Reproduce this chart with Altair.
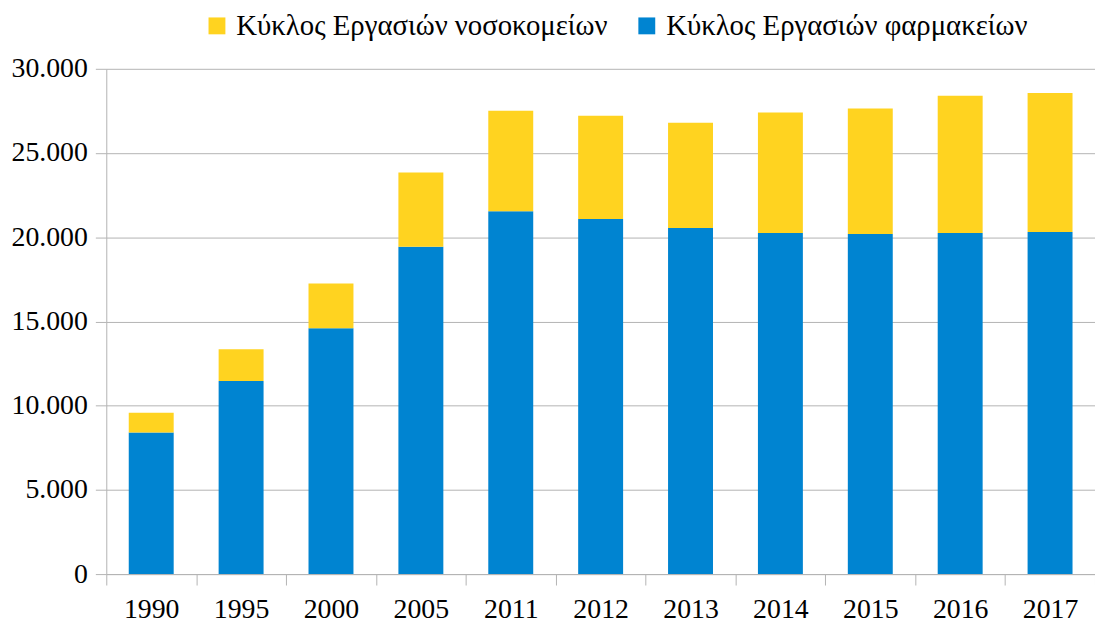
import altair as alt
import pandas as pd

years = ["1990", "1995", "2000", "2005", "2011", "2012", "2013", "2014", "2015", "2016", "2017"]
pharmacies = [8400, 11470, 14600, 19430, 21550, 21080, 20550, 20250, 20190, 20250, 20310]
hospitals = [1180, 1880, 2660, 4420, 5960, 6130, 6250, 7150, 7450, 8150, 8260]

s_hosp = "Κύκλος Εργασιών νοσοκομείων"
s_pharm = "Κύκλος Εργασιών φαρμακείων"

rows = []
for y, p, h in zip(years, pharmacies, hospitals):
    rows.append({"year": y, "series": s_pharm, "value": p, "ord": 0})
    rows.append({"year": y, "series": s_hosp, "value": h, "ord": 1})
df = pd.DataFrame(rows)

FONT = "Liberation Serif"
FS = 28

chart = alt.Chart(df).mark_bar(width=alt.RelativeBandSize(0.5)).encode(
    x=alt.X("year:N", sort=years, title=None,
            scale=alt.Scale(paddingInner=0, paddingOuter=0),
            axis=alt.Axis(labelAngle=0, tickBand="extent", tickSize=11, labelPadding=11,
                          domainColor="#b3b3b3", tickColor="#b3b3b3", grid=False,
                          labelFont=FONT, labelFontSize=FS, labelColor="#000000")),
    y=alt.Y("value:Q", stack="zero", title=None,
            scale=alt.Scale(domain=[0, 30000], nice=False),
            axis=alt.Axis(values=[0, 5000, 10000, 15000, 20000, 25000, 30000],
                          labelExpr="replace(format(datum.value, ','), ',', '.')",
                          tickSize=11, labelPadding=8, domainColor="#b3b3b3",
                          tickColor="#b3b3b3", gridColor="#b3b3b3", grid=True,
                          labelFont=FONT, labelFontSize=FS, labelColor="#000000")),
    color=alt.Color("series:N",
                    scale=alt.Scale(domain=[s_hosp, s_pharm], range=["#ffd320", "#0084d1"]),
                    legend=alt.Legend(title=None, orient="none", direction="horizontal",
                                      legendX=97, legendY=-58,
                                      symbolType="square", symbolSize=289,
                                      symbolStrokeWidth=0, symbolOpacity=1,
                                      labelFont=FONT, labelFontSize=29, labelColor="#000000",
                                      labelOffset=5, columnPadding=24, labelLimit=600)),
    order=alt.Order("ord:Q", sort="ascending"),
).properties(
    width=996, height=509,
    autosize=alt.AutoSizeParams(type="none"),
    padding={"left": 99, "top": 59, "right": 0, "bottom": 47},
).configure_view(stroke=None)

chart.save("out.html", embed_options={"renderer": "svg", "actions": False})
